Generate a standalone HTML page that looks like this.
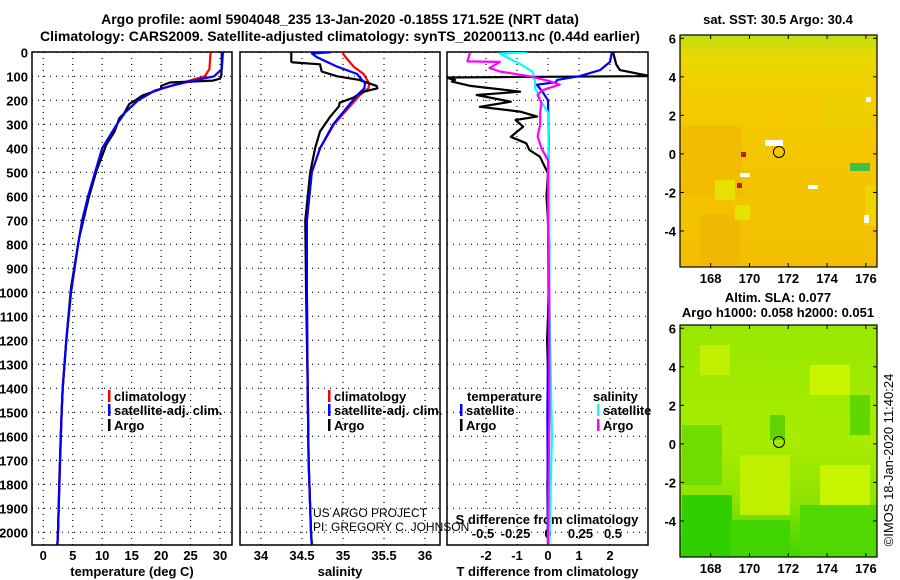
<!DOCTYPE html>
<html><head><meta charset="utf-8"><style>
html,body{margin:0;padding:0;background:#fff;}
svg{display:block;font-family:"Liberation Sans",Arial,sans-serif;}
.b{font-weight:bold;font-size:13px;}
.t{font-weight:bold;font-size:14px;}
</style></head><body>
<svg id="fig" width="900" height="580" viewBox="0 0 900 580" xmlns="http://www.w3.org/2000/svg">
<defs>
<linearGradient id="sstg" x1="0" y1="0" x2="0" y2="1">
<stop offset="0" stop-color="#c0e010"/><stop offset="0.1" stop-color="#e8d800"/><stop offset="0.25" stop-color="#f4cc00"/><stop offset="0.6" stop-color="#f4c400"/><stop offset="1" stop-color="#f2c000"/></linearGradient>
<linearGradient id="slag" x1="0" y1="0" x2="0" y2="1">
<stop offset="0" stop-color="#98e800"/><stop offset="0.5" stop-color="#a8ec00"/><stop offset="0.75" stop-color="#90e400"/><stop offset="1" stop-color="#40d400"/></linearGradient>
<clipPath id="c1"><rect x="32" y="52" width="200" height="493"/></clipPath>
<clipPath id="c2"><rect x="240" y="52" width="200" height="493"/></clipPath>
<clipPath id="c3"><rect x="447" y="52" width="201" height="493"/></clipPath>
<clipPath id="m1"><rect x="680" y="35" width="197" height="232"/></clipPath>
<clipPath id="m2"><rect x="680" y="325" width="197" height="232"/></clipPath>
</defs>
<text class="t" x="340" y="24" text-anchor="middle">Argo profile: aoml 5904048_235 13-Jan-2020 -0.185S 171.52E (NRT data)</text>
<text class="t" x="340" y="41" text-anchor="middle">Climatology: CARS2009. Satellite-adjusted climatology: synTS_20200113.nc (0.44d earlier)</text>
<g id="p1"></g>
<g id="p2"></g>
<g id="p3"></g>
<g id="maps"></g>
<text x="893" y="460" font-size="13" transform="rotate(-90 893 460)" text-anchor="middle">©IMOS 18-Jan-2020 11:40:24</text>
</svg>
<script>
// ---- data ----
const depthTicks=[0,100,200,300,400,500,600,700,800,900,1000,1100,1200,1300,1400,1500,1600,1700,1800,1900,2000];
const tempTicks=[0,5,10,15,20,25,30];
const salTicks=[34,34.5,35,35.5,36];
const tdTicks=[-2,-1,0,1,2];
const sdTicks=[-0.5,-0.25,0,0.25,0.5];
const argoTD=[0,50,100,110,118,126,140,152,166,180,199,215,255,275,330,385,496,607,773,981,1200,1400,1600,1800,2000,2050];
const argoT=[30.3,30.3,30.2,30.0,28.8,21.5,20,20,18.5,16.8,15.7,14.6,13.7,12.9,12.1,10.7,9.0,7.7,6.1,4.7,3.9,3.3,2.95,2.7,2.5,2.4];
const satTD=[0,70,100,120,140,160,200,250,300,400,500,600,700,800,1000,1200,1400,1500,1700,2000,2050];
const satT=[30.5,30.3,29.0,25.1,21.7,18.9,16.1,13.9,12.5,10.0,8.8,7.6,6.6,5.9,4.7,3.9,3.3,3.1,2.85,2.5,2.4];
const climT=[28.4,28.2,27.4,24.6,21.6,18.9,16.1,13.9,12.5,10.0,8.8,7.6,6.6,5.9,4.7,3.9,3.3,3.1,2.85,2.5,2.4];
const argoSD=[0,40,42,50,80,100,115,140,150,165,190,210,225,270,330,400,500,700,1000,1400,1700,2000,2050];
const argoS=[34.37,34.37,34.39,34.72,34.74,34.93,35.2,35.41,35.42,35.24,35.12,34.96,34.95,34.84,34.72,34.66,34.6,34.54,34.55,34.57,34.58,34.61,34.62];
const satSD=[0,5,20,60,90,130,150,180,250,300,400,500,700,1000,1400,1700,2000,2050];
const satS=[34.85,34.62,34.68,34.93,35.17,35.27,35.26,35.17,35.0,34.88,34.72,34.62,34.56,34.56,34.57,34.58,34.61,34.62];
const climS=[35.0,35.0,35.03,35.13,35.25,35.32,35.31,35.2,35.02,34.89,34.72,34.62,34.56,34.56,34.57,34.58,34.61,34.62];
const dArgoD=[0,50,74,99,105,115,122,140,164,178,206,227,247,268,282,310,352,379,407,435,504,600,800,1000,1200,1500,1800,2050];
const dArgoT=[2.1,2.2,2.32,3.3,-3.3,-3.0,-3.1,-2.5,-0.9,-2.3,-1.2,-2.2,-0.9,-0.35,-1.05,-0.8,-1.2,-0.7,-0.6,-0.26,0,-0.05,0.05,0.03,-0.03,0.04,-0.02,0];
const dSatD=[0,40,74,99,115,125,135,160,200,400,700,1000,1500,2050];
const dSatT=[2.06,2.0,1.68,1.03,0.3,0.25,-0.36,-0.2,0,0.03,0,0.02,-0.02,0];
const dSSatD=[0,5,20,50,80,120,150,170,200,250,500,1000,1600,2050];
const dSSat=[-0.16,-0.37,-0.32,-0.21,-0.12,-0.1,-0.1,-0.08,-0.06,0,0.01,0.01,0.03,0.01];
const dSArgoD=[0,38,40,65,80,100,120,135,150,160,180,210,250,300,350,400,450,700,1000,1500,2050];
const dSArgo=[-0.6,-0.62,-0.37,-0.45,-0.37,-0.14,0.01,0.09,0.0,-0.05,-0.08,-0.05,-0.06,-0.06,-0.08,-0.05,0,0,0.01,0.01,0];
const latTicks=[6,4,2,0,-2,-4];
const lonTicks=[168,170,172,174,176];
const argoLon=171.52, argoLat=0.1;
// ---- scales ----
const Y0=52.3, YS=0.24;
const yD=d=>Y0+d*YS;
const xT=t=>43.3+t*5.89;
const xS=s=>302+(s-34.5)*82;
const xDT=v=>548+v*31;
const xDS=v=>548+v*130;
const NS='http://www.w3.org/2000/svg';
function mk(parent,tag,attrs,txt){const e=document.createElementNS(NS,tag);for(const k in attrs)e.setAttribute(k,attrs[k]);if(txt!==undefined)e.textContent=txt;parent.appendChild(e);return e;}
function panel(g,x0,x1,xTicksArr,xf,fmt,xlabel,showDepth){
  const y1=545;
  depthTicks.forEach(d=>{
    const l=mk(g,'line',{x1:x0,x2:x1,y1:yD(d),y2:yD(d),stroke:'#000','stroke-dasharray':'1,5','stroke-width':1.2});
    
    
    if(showDepth){const t=mk(g,'text',{x:28,y:yD(d)+5,'text-anchor':'end',class:'b'},String(d));
    
    }
  });
  xTicksArr.forEach(v=>{
    const l=mk(g,'line',{x1:xf(v),x2:xf(v),y1:52,y2:y1,stroke:'#000','stroke-dasharray':'1,5','stroke-width':1.2});
    
    
    const t=mk(g,'text',{x:xf(v),y:560,'text-anchor':'middle',class:'b'},fmt(v));
    
    
  });
  const r=mk(g,'rect',{x:x0,y:52,width:x1-x0,height:y1-52,fill:'none',stroke:'#000','stroke-width':1.5});
  
  
  const xl=mk(g,'text',{x:(x0+x1)/2,y:576,'text-anchor':'middle',class:'b'},xlabel);
  
  
}
function line(g,D,V,xf,color,name,clip){
  const pts=D.map((d,i)=>xf(V[i]).toFixed(1)+','+yD(d).toFixed(1)).join(' ');
  const p=mk(g,'polyline',{points:pts,fill:'none',stroke:color,'stroke-width':2.2,'clip-path':'url(#'+clip+')','stroke-linejoin':'round'});
  
  
}
function legend(g,x,y,color,label){
  const m=mk(g,'rect',{x:x,y:y-11,width:2.5,height:12,fill:color});
  
  
  const t=mk(g,'text',{x:x+6,y:y,class:'b'},label);
  
  
}
const p1=document.getElementById('p1'),p2=document.getElementById('p2'),p3=document.getElementById('p3');
panel(p1,32,232,tempTicks,xT,String,'temperature (deg C)',true);
line(p1,satTD,climT,xT,'#f00','temp-climatology-line','c1');
line(p1,argoTD,argoT,xT,'#000','temp-argo-line','c1');
line(p1,satTD,satT,xT,'#00f','temp-satellite-line','c1');
legend(p1,108,401,'#f00','climatology');
legend(p1,108,415,'#00f','satellite-adj. clim.');
legend(p1,108,430,'#000','Argo');
panel(p2,240,440,salTicks,xS,String,'salinity',false);
line(p2,satSD,climS,xS,'#f00','sal-climatology-line','c2');
line(p2,argoSD,argoS,xS,'#000','sal-argo-line','c2');
line(p2,satSD,satS,xS,'#00f','sal-satellite-line','c2');
legend(p2,328,401,'#f00','climatology');
legend(p2,328,415,'#00f','satellite-adj. clim.');
legend(p2,328,430,'#000','Argo');
const u1=mk(p2,'text',{x:313,y:517,'font-size':12},'US ARGO PROJECT');


const u2=mk(p2,'text',{x:313,y:531,'font-size':12},'PI: GREGORY C. JOHNSON');


panel(p3,447,648,tdTicks,xDT,String,'T difference from climatology',false);
sdTicks.forEach(v=>{
  const t=mk(p3,'text',{x:xDS(v),y:538,'text-anchor':'middle',class:'b'},String(v));
  
  
});
const st=mk(p3,'text',{x:547,y:524,'text-anchor':'middle',class:'b'},'S difference from climatology');


line(p3,dArgoD,dArgoT,xDT,'#000','tdiff-argo-line','c3');
line(p3,dSatD,dSatT,xDT,'#00f','tdiff-satellite-line','c3');
line(p3,dSSatD,dSSat,xDS,'#0ff','sdiff-satellite-line','c3');
line(p3,dSArgoD,dSArgo,xDS,'#f0f','sdiff-argo-line','c3');
const th=mk(p3,'text',{x:467,y:401,class:'b'},'temperature');


legend(p3,460,415,'#00f','satellite');
legend(p3,460,430,'#000','Argo');
const sh=mk(p3,'text',{x:593,y:401,class:'b'},'salinity');


legend(p3,597,415,'#0ff','satellite');
legend(p3,597,430,'#f0f','Argo');
// ---- maps ----
const maps=document.getElementById('maps');
function mapPanel(top,fill,clip,name,blobs){
  const g=mk(maps,'g',{});
  
  
  const bot=top+232;
  const lx=lon=>680+(lon-166.42)*19.4;
  const ly=lat=>top+(6.17-lat)*19.27;
  const bg=mk(g,'rect',{x:680,y:top,width:197,height:232,fill:fill});
  
  
  const bl=mk(g,'g',{'clip-path':'url(#'+clip+')'});
  blobs.forEach(b=>{const e=mk(bl,'rect',{x:b[0],y:top+b[1],width:b[2],height:b[3],fill:b[4]});
    
    });
  const c=mk(g,'circle',{cx:lx(argoLon),cy:ly(argoLat),r:5.5,fill:'none',stroke:'#000','stroke-width':1});
  
  
  const fr=mk(g,'rect',{x:680,y:top,width:197,height:232,fill:'none',stroke:'#000','stroke-width':1.2});
  
  
  latTicks.forEach(v=>{
    mk(g,'line',{x1:680,x2:684,y1:ly(v),y2:ly(v),stroke:'#000'});
    mk(g,'line',{x1:873,x2:877,y1:ly(v),y2:ly(v),stroke:'#000'});
    const t=mk(g,'text',{x:676,y:ly(v)+5,'text-anchor':'end',class:'b'},String(v));
    
    
  });
  lonTicks.forEach(v=>{
    mk(g,'line',{x1:lx(v),x2:lx(v),y1:top,y2:top+4,stroke:'#000'});
    mk(g,'line',{x1:lx(v),x2:lx(v),y1:bot-4,y2:bot,stroke:'#000'});
    const t=mk(g,'text',{x:lx(v),y:bot+16,'text-anchor':'middle',class:'b'},String(v));
    
    
  });
}
mapPanel(35,'url(#sstg)','m1','sst-map',[
 [682,90,60,70,'#f2bc00'],[700,180,40,50,'#f0b800'],[820,60,50,30,'#ecd000'],[865,150,12,40,'#f0d400'],
 [715,145,20,20,'#e8e000'],[735,170,15,15,'#e4e400'],
 [765,105,18,6,'#fff'],[740,138,10,4,'#fff'],[808,150,10,4,'#fff'],[864,180,5,8,'#fff'],[866,62,5,5,'#fff'],
 [850,128,20,8,'#40c040'],[737,148,5,5,'#b82000'],[741,117,5,5,'#b82000']]);
mapPanel(325,'url(#slag)','m2','sla-map',[
 [682,100,40,60,'#70dc00'],[700,20,30,30,'#c0f000'],[810,40,40,30,'#c8f400'],[850,70,20,40,'#60d800'],
 [770,90,15,25,'#60d400'],[740,130,50,60,'#c0f000'],[820,140,50,40,'#c8f400'],[682,170,50,62,'#30d000'],
 [800,180,77,52,'#50d800'],[730,195,60,37,'#40d400']]);
[['sat. SST: 30.5 Argo: 30.4',24,'sst-map-title'],['Altim. SLA: 0.077',302,'sla-map-title'],['Argo h1000: 0.058 h2000: 0.051',317,'argo-height-title']].forEach(a=>{
  const t=mk(maps,'text',{x:778,y:a[1],'text-anchor':'middle',class:'b'},a[0]);
  
  
});
</script>
</body></html>
